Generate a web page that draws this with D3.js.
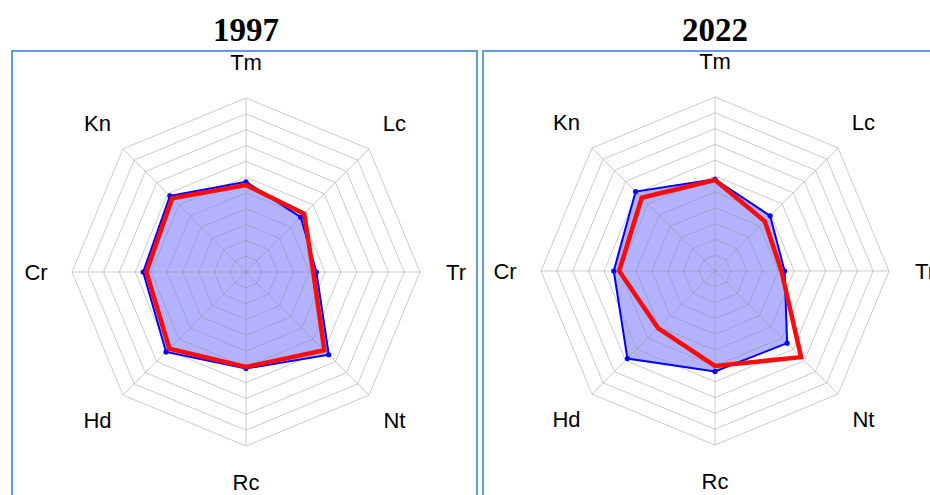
<!DOCTYPE html>
<html>
<head>
<meta charset="utf-8">
<script src="https://cdn.jsdelivr.net/npm/d3@7"></script>
<style>
  body { margin: 0; background: #fff; }
</style>
</head>
<body>
<div id="chart"></div>
<script>
// axes, clockwise from the top
var categories = ["Tm", "Lc", "Tr", "Nt", "Rc", "Hd", "Cr", "Kn"];
var years = ["1997", "2022"];
var ringLevels = [1, 2, 3, 4, 5, 6, 7, 8, 9, 10, 11];

// blue series (filled) and red series (thick line), one list per year
var blue1997 = [5.7, 4.9, 4.45, 7.4, 6.1, 7.15, 6.5, 6.8];
var red1997 = [5.5, 5.2, 4.25, 7.0, 6.0, 6.85, 6.3, 6.6];
var blue2022 = [5.8, 4.93, 4.4, 6.45, 6.35, 7.83, 6.4, 7.1];
var red2022 = [5.75, 4.45, 4.2, 7.7, 6.0, 5.1, 6.06, 6.55];

var blueSeries = [blue1997, blue2022];
var redSeries = [red1997, red2022];

var width = 930, height = 495;
var radius = 174;
var centers = [{ x: 246, y: 272 }, { x: 715, y: 271 }];
var boxes = [{ x: 12, w: 465 }, { x: 483, w: 460 }];

var svg = d3.select("#chart").append("svg")
    .attr("width", width)
    .attr("height", height);

var r = d3.scaleLinear().domain([0, 11]).range([0, radius]);
var angle = d3.scalePoint().domain(categories.concat(["_end"])).range([0, 2 * Math.PI]);

function pt(cat, v) {
    var a = angle(cat);
    return [Math.sin(a) * r(v), -Math.cos(a) * r(v)];
}

var radar = d3.line()
    .x(function (d) { return d[0]; })
    .y(function (d) { return d[1]; })
    .curve(d3.curveLinearClosed);

function drawPanel(i) {
    // frame
    svg.append("rect")
        .attr("x", boxes[i].x)
        .attr("y", 51)
        .attr("width", boxes[i].w)
        .attr("height", 470)
        .attr("fill", "none")
        .attr("stroke", "#3a84d4")
        .attr("stroke-width", 1.6);

    // title
    svg.append("text")
        .attr("x", centers[i].x)
        .attr("y", 41)
        .attr("text-anchor", "middle")
        .style("font-family", "'Liberation Serif', 'DejaVu Serif', serif")
        .style("font-weight", "bold")
        .style("font-size", "33px")
        .text(years[i]);

    var g = svg.append("g")
        .attr("transform", "translate(" + centers[i].x + "," + centers[i].y + ")");

    // filled blue area under the grid
    var bluePts = categories.map(function (c, k) { return pt(c, blueSeries[i][k]); });
    var redPts = categories.map(function (c, k) { return pt(c, redSeries[i][k]); });

    g.append("path")
        .attr("d", radar(bluePts))
        .attr("fill", "#0000ff")
        .attr("fill-opacity", 0.3)
        .attr("stroke", "none");

    // rings
    g.selectAll(".ring")
        .data(ringLevels)
        .enter().append("path")
        .attr("class", "ring")
        .attr("d", function (lv) {
            return radar(categories.map(function (c) { return pt(c, lv); }));
        })
        .attr("fill", "none")
        .attr("stroke", "#8f8f8f")
        .attr("stroke-opacity", 0.45)
        .attr("stroke-width", 1);

    // spokes
    g.selectAll(".spoke")
        .data(categories)
        .enter().append("line")
        .attr("class", "spoke")
        .attr("x1", 0).attr("y1", 0)
        .attr("x2", function (c) { return pt(c, 11)[0]; })
        .attr("y2", function (c) { return pt(c, 11)[1]; })
        .attr("stroke", "#8f8f8f")
        .attr("stroke-opacity", 0.45)
        .attr("stroke-width", 1);

    // blue outline + markers
    g.append("path")
        .attr("d", radar(bluePts))
        .attr("fill", "none")
        .attr("stroke", "#0000ff")
        .attr("stroke-width", 2);

    g.selectAll(".dot")
        .data(bluePts)
        .enter().append("circle")
        .attr("class", "dot")
        .attr("cx", function (d) { return d[0]; })
        .attr("cy", function (d) { return d[1]; })
        .attr("r", 2.6)
        .attr("fill", "#0000ff");

    // red line on top
    g.append("path")
        .attr("d", radar(redPts))
        .attr("fill", "none")
        .attr("stroke", "#ff0a0a")
        .attr("stroke-width", 4.5)
        .attr("stroke-linejoin", "miter");

    // axis labels
    g.selectAll(".lab")
        .data(categories)
        .enter().append("text")
        .attr("class", "lab")
        .attr("x", function (c) { return Math.sin(angle(c)) * (radius + 36); })
        .attr("y", function (c) { return -Math.cos(angle(c)) * (radius + 36); })
        .attr("text-anchor", "middle")
        .attr("dominant-baseline", "central")
        .style("font-family", "'Liberation Sans', Arial, sans-serif")
        .style("font-size", "22px")
        .text(function (c) { return c; });
}

drawPanel(0);
drawPanel(1);
</script>
</body>
</html>
